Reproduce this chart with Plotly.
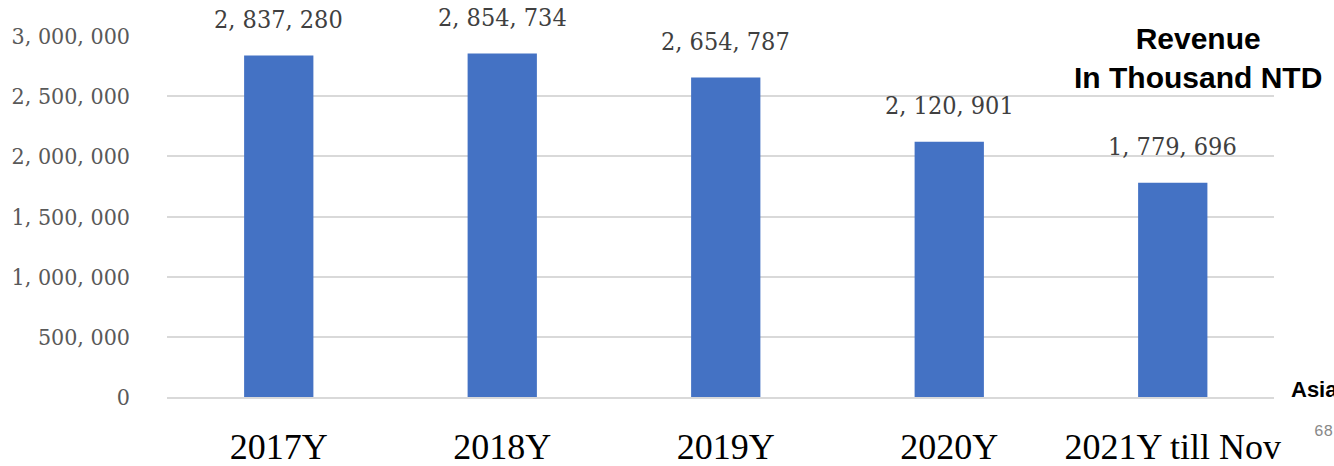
import plotly.graph_objects as go

categories = ["2017Y", "2018Y", "2019Y", "2020Y", "2021Y till Nov"]
revenue = [2837280, 2854734, 2654787, 2120901, 1779696]
y_tick_values = [0, 500000, 1000000, 1500000, 2000000, 2500000, 3000000]
y_tick_labels = ["0", "500, 000", "1, 000, 000", "1, 500, 000", "2, 000, 000", "2, 500, 000", "3, 000, 000"]

def fmt(v):
    return f"{v:,}".replace(",", ", ")

NUM_FONT = "DejaVu Serif Condensed, DejaVu Sans Condensed, serif"

fig = go.Figure()
fig.add_trace(go.Bar(
    x=categories, y=revenue,
    marker=dict(color="#4472C4", line=dict(width=0)),
    hoverinfo="skip",
))

for c, v in zip(categories, revenue):
    fig.add_annotation(
        x=c, y=v, text=fmt(v), showarrow=False,
        xref="x", yref="y", yanchor="middle", xanchor="center", yshift=36,
        font=dict(family=NUM_FONT, size=25, color="#404040"),
    )

fig.add_annotation(
    xref="paper", yref="paper", x=(1198 - 167) / 1107, y=1.0, yshift=16,
    text="<b>Revenue<br>In Thousand NTD</b>", showarrow=False,
    xanchor="center", yanchor="top", align="center",
    font=dict(family="Liberation Sans, Arial, sans-serif", size=30, color="#000000"),
)
fig.add_annotation(
    xref="paper", yref="paper", x=(1289 - 167) / 1107, y=0.0, yshift=-7,
    text="<b>Asia</b>", showarrow=False, xanchor="left", yanchor="bottom",
    font=dict(family="Liberation Sans, Arial, sans-serif", size=22, color="#000000"),
)
fig.add_annotation(
    xref="paper", yref="paper", x=(1312 - 167) / 1107, y=0.0, yshift=-46,
    text="68", showarrow=False, xanchor="left", yanchor="bottom",
    font=dict(family="Liberation Mono, monospace", size=16, color="#888888"),
)

fig.update_layout(
    width=1334, height=466,
    margin=dict(l=167, r=60, t=36, b=69, autoexpand=False),
    paper_bgcolor="white", plot_bgcolor="white",
    bargap=0.69,
    showlegend=False,
    xaxis=dict(
        range=[-0.5, 4.453], automargin=False,
        showline=True, linecolor="#d9d9d9", linewidth=2,
        showgrid=False, ticks="",
        ticklabelstandoff=17,
        tickfont=dict(family="Liberation Serif, Times New Roman, serif", size=36, color="#000000"),
    ),
    yaxis=dict(
        range=[0, 3000000], automargin=False,
        tickvals=y_tick_values, ticktext=y_tick_labels,
        showgrid=True, gridcolor="#d9d9d9", gridwidth=2,
        zeroline=False, showline=False, ticks="",
        ticklabelstandoff=36,
        tickfont=dict(family=NUM_FONT, size=23, color="#595959"),
    ),
)

fig.write_html("out.html")
